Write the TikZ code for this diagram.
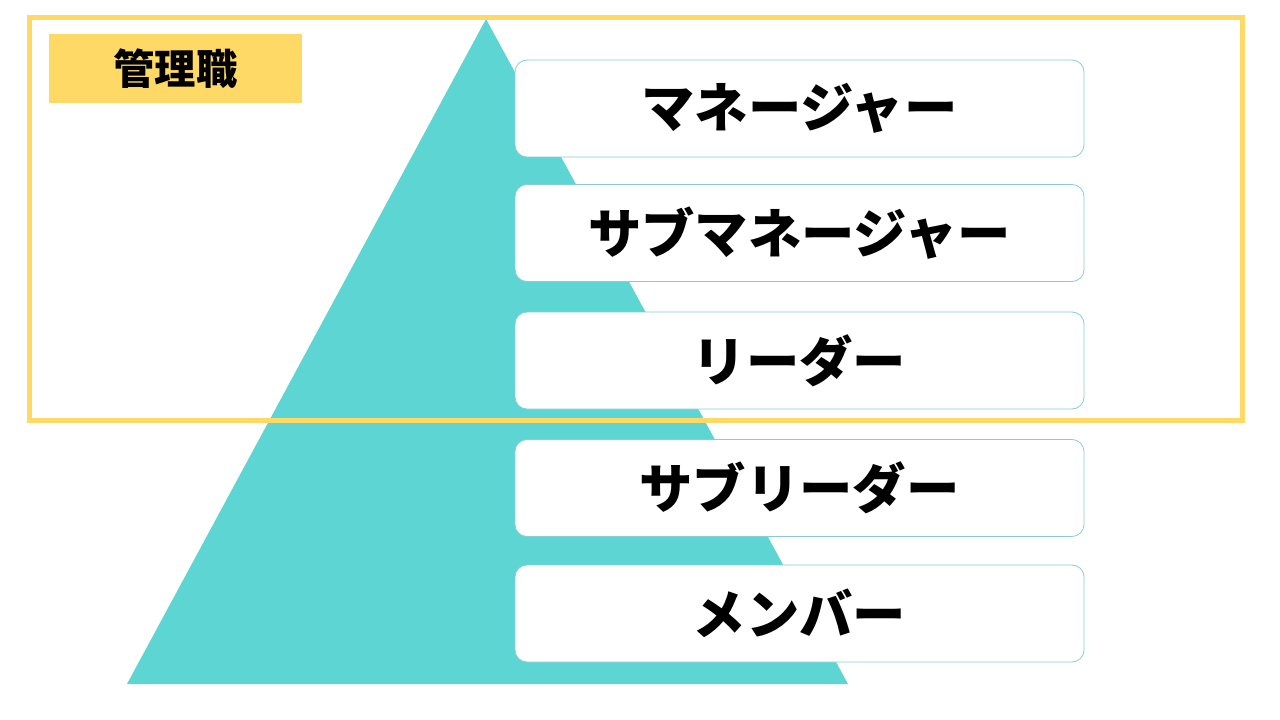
\documentclass[tikz,border=0pt]{standalone}
\usepackage{fontspec}
\newfontfamily\jp{Noto Sans CJK JP}
\definecolor{teal1}{HTML}{5DD5D3}
\definecolor{gold1}{HTML}{FFD966}
\definecolor{edge1}{HTML}{86CDD6}
\newcommand{\upby}[2]{\raisebox{#1}{#2}}
\tikzset{
  levelbox/.style={draw=edge1, line width=0.6pt, fill=white, rounded corners=9pt,
    minimum width=426.75pt, minimum height=72.75pt, inner sep=0pt,
    font=\jp\bfseries\fontsize{40pt}{44pt}\selectfont, text=black},
  tagbox/.style={fill=gold1, minimum width=189.75pt, minimum height=51.75pt, inner sep=0pt,
    font=\jp\bfseries\fontsize{31pt}{36pt}\selectfont, text=black}
}
\begin{document}
\begin{tikzpicture}[x=0.75pt,y=-0.75pt]
\useasboundingbox (0,0) rectangle (1280,720);
\fill[white] (0,0) rectangle (1280,720);
\coordinate (apex) at (486,19);
\coordinate (bl) at (127,684);
\coordinate (br) at (848,684);
\fill[teal1] (apex) -- (br) -- (bl) -- cycle;
\draw[gold1, line width=3.75pt] (29.5,18) rectangle (1242.5,420.5);
\node[tagbox] (tag) at (175.5,68.5) {\upby{3pt}{管理職}};
\node[levelbox] (l1) at (799.5,108.5) {\upby{1.5pt}{マネージャー}};
\node[levelbox] (l2) at (799.5,233) {\upby{1.5pt}{サブマネージャー}};
\node[levelbox] (l3) at (799.5,360.5) {\upby{1.5pt}{リーダー}};
\node[levelbox] (l4) at (799.5,488) {\upby{1.5pt}{サブリーダー}};
\node[levelbox] (l5) at (799.5,613.5) {\upby{1.5pt}{メンバー}};
\end{tikzpicture}
\end{document}
